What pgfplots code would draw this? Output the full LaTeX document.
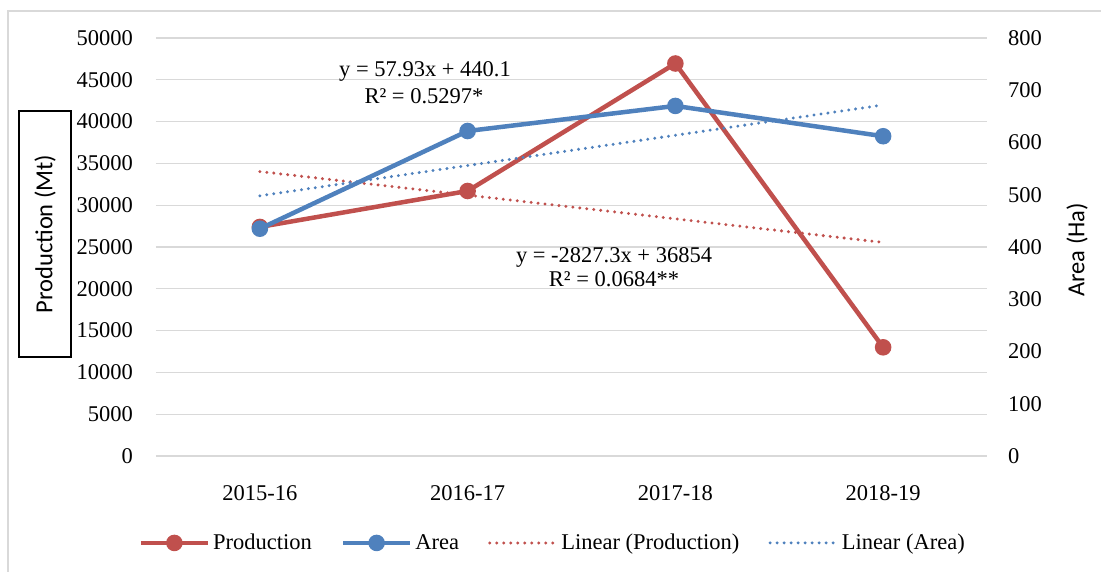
\documentclass[border=0pt]{standalone}
\usepackage{fontspec}
\setmainfont{Liberation Serif}
\newfontfamily\calib{Carlito}
\usepackage{pgfplots}
\pgfplotsset{compat=1.18}
\definecolor{prodred}{HTML}{C0504D}
\definecolor{areablue}{HTML}{4F81BD}
\definecolor{gridgray}{HTML}{D9D9D9}
\pgfplotsset{
  common/.style={scale only axis, width=831pt, height=418pt,
    xmin=0.5, xmax=4.5, xtick={1,2,3,4},
    axis line style={draw=none}, tick style={draw=none},
    scaled y ticks=false, /pgf/number format/1000 sep={},
    /pgf/number format/assume math mode=true,
    tick label style={font=\fontsize{22.5}{27}\selectfont, inner sep=0pt},
    clip=false},
  mainline/.style={line width=4.5pt, mark=*, mark size=6pt, mark options={solid}},
  trendline/.style={line width=3.3pt, line cap=round, dash pattern=on 0pt off 7pt},
}
\pgfplotstableread{
x prod area trendprod trendarea
1 27400 435 34026.7 498.03
2 31700 622 31199.4 555.96
3 46950 670 28372.1 613.89
4 13000 612 25544.8 671.82
}\datatable
\begin{document}
\begin{tikzpicture}[x=1pt,y=1pt]
\useasboundingbox (-156,-116) rectangle (945,456);
\draw[gridgray, line width=2pt] (-148,-130) -- (-148,445) -- (960,445);
\begin{axis}[common,
  ymin=0, ymax=50000, ytick={0,5000,...,50000},
  axis y line*=left, axis x line*=bottom,
  ymajorgrids, grid style={gridgray, line width=1.3pt},
  xticklabels={2015-16,2016-17,2017-18,2018-19},
  xticklabel style={anchor=base, yshift=-45pt},
  yticklabel style={anchor=east, xshift=-23pt},
]
\addplot[prodred, trendline] table[x=x, y=trendprod] {\datatable};
\addplot[prodred, mainline] table[x=x, y=prod] {\datatable};
\end{axis}
\begin{axis}[common,
  ymin=0, ymax=800, ytick={0,100,...,800},
  axis y line*=right, axis x line*=bottom, xticklabels={},
  yticklabel style={anchor=west, xshift=21pt},
  legend columns=4,
  legend style={draw=none, fill=none, at={(0.478,-0.208)}, anchor=center,
    font=\fontsize{22.5}{27}\selectfont, nodes={inner sep=3pt},
    /tikz/every even column/.append style={column sep=26pt}},
  legend image code/.code={\draw[mark repeat=2,mark phase=2,#1] plot coordinates {(0pt,0pt) (33.5pt,0pt) (67pt,0pt)};},
]
\addlegendimage{prodred, mainline}
\addlegendentry{Production}
\addplot[areablue, trendline, forget plot] table[x=x, y=trendarea] {\datatable};
\addplot[areablue, mainline] table[x=x, y=area] {\datatable};
\addlegendentry{Area}
\addlegendimage{prodred, trendline}
\addlegendentry{Linear (Production)}
\addlegendimage{areablue, trendline}
\addlegendentry{Linear (Area)}
\end{axis}
\node[anchor=base, font=\fontsize{22.5}{27}\selectfont] at (269,379) {y = 57.93x + 440.1};
\node[anchor=base, font=\fontsize{22.5}{27}\selectfont] at (268,352) {R² = 0.5297*};
\node[anchor=base, font=\fontsize{22.5}{27}\selectfont] at (458,193) {y = -2827.3x + 36854};
\node[anchor=base, font=\fontsize{22.5}{27}\selectfont] at (458,169) {R² = 0.0684**};
\node[draw=black, line width=1.5pt, rotate=90, minimum width=246pt, minimum height=52pt, inner sep=0pt, font=\calib\fontsize{24.5}{29}\selectfont] at (-111,222) {Production (Mt)};
\node[rotate=90, inner sep=0pt, font=\calib\fontsize{24.5}{29}\selectfont] at (921,206) {Area (Ha)};
\end{tikzpicture}
\end{document}
